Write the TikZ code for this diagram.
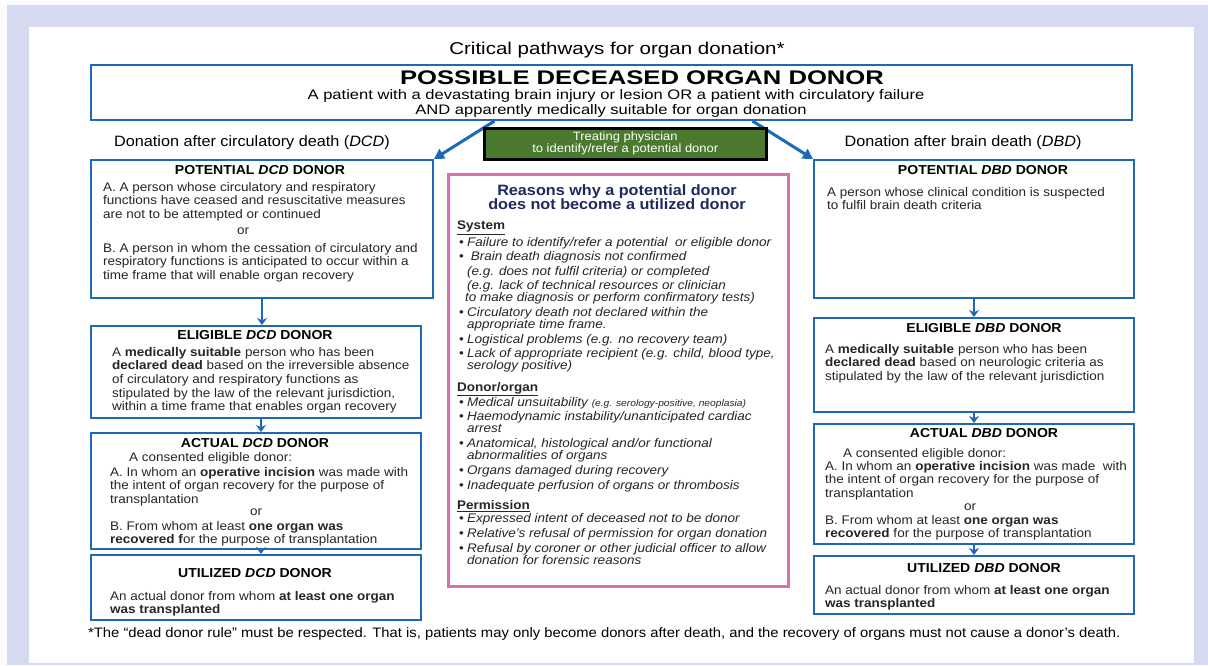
\documentclass[tikz,border=0pt]{standalone}
\usepackage{fontspec}
\setmainfont{Liberation Sans}[FakeStretch=1.08]
\newfontfamily\widesans[FakeStretch=1.2]{Liberation Sans}
\newfontfamily\widersans[FakeStretch=1.3]{Liberation Sans}
\usetikzlibrary{arrows.meta}

\definecolor{framelav}{HTML}{D5DAF0}
\definecolor{boxblue}{HTML}{1F68B5}
\definecolor{reasonpink}{HTML}{D870A9}
\definecolor{physgreen}{HTML}{4A7A2E}
\definecolor{headnavy}{HTML}{1E2A5E}
\definecolor{bodygray}{HTML}{262626}

\newcommand{\bdy}{\fontsize{12.5}{13.6}\selectfont}
\newcommand{\ttl}{\fontsize{13}{15}\selectfont\bfseries}
\newcommand{\bul}{\makebox[8pt][l]{\upshape\textbullet}}
\newcommand{\ind}{\hspace*{8pt}}

\begin{document}
\begin{tikzpicture}[x=1pt,y=-1pt,
  box/.style={draw=boxblue,line width=2pt,anchor=north west,inner sep=0pt},
  txt/.style={inner sep=0pt,anchor=north west,align=left,font=\bdy,text=bodygray},
  ttlnode/.style={inner sep=0pt,font=\ttl,text=black},
  ortxt/.style={inner sep=0pt,font=\bdy,text=bodygray},
  plist/.style={inner sep=0pt,anchor=north west,align=left,text=bodygray,
    font=\fontsize{12.5}{12}\selectfont\itshape},
  phead/.style={inner sep=0pt,anchor=north west,font=\fontsize{12.5}{14}\selectfont\bfseries,text=bodygray},
  varr/.style={draw=boxblue,line width=2pt,-{Stealth[length=7pt,width=10pt]}},
  darr/.style={draw=boxblue,line width=3pt,-{Triangle[length=10pt,width=11pt]}}]

% frame
\useasboundingbox (0,0) rectangle (1208,665);
\fill[white!95!framelav] (0,0) rectangle (1208,665);
\fill[framelav] (7,5) rectangle (1208,665);
\fill[white] (29,27) rectangle (1194,663);

% top
\node[font=\widesans\fontsize{17.1}{20}\selectfont,inner sep=0pt] (title) at (617,50) {Critical pathways for organ donation*};
\node[box,minimum width=1041pt,minimum height=55pt] (possible) at (90,64) {};
\node[font=\widersans\fontsize{19.7}{22}\selectfont\bfseries,inner sep=0pt] (possiblet) at (642,78) {POSSIBLE DECEASED ORGAN DONOR};
\node[font=\widesans\fontsize{13.8}{16}\selectfont,inner sep=0pt] (possiblea) at (616,96) {A patient with a devastating brain injury or lesion OR a patient with circulatory failure};
\node[font=\widesans\fontsize{13.8}{16}\selectfont,inner sep=0pt] (possibleb) at (611,111) {AND apparently medically suitable for organ donation};

\node[font=\fontsize{15}{17}\selectfont,inner sep=0pt] (dcdlab) at (252,143) {Donation after circulatory death (\textit{DCD})};
\node[font=\fontsize{15}{17}\selectfont,inner sep=0pt] (dbdlab) at (963,143) {Donation after brain death (\textit{DBD})};

% DCD column
\node[box,minimum width=342pt,minimum height=138pt] (pdcd) at (90,159) {};
\node[box,minimum width=330pt,minimum height=92pt] (edcd) at (90,325) {};
\node[box,minimum width=330pt,minimum height=116pt] (adcd) at (90,432) {};
\node[box,minimum width=330pt,minimum height=65pt] (udcd) at (90,554) {};

\node[ttlnode] (pdcdt) at (260,170) {POTENTIAL \textit{DCD} DONOR};
\node[txt] (pdcda) at (103,182) {A. A person whose circulatory and respiratory\\functions have ceased and resuscitative measures\\are not to be attempted or continued};
\node[ortxt] (pdcdor) at (243,231) {or};
\node[txt] (pdcdb) at (103,243) {B. A person in whom the cessation of circulatory and\\respiratory functions is anticipated to occur within a\\time frame that will enable organ recovery};

\node[ttlnode] (edcdt) at (255,335) {ELIGIBLE \textit{DCD} DONOR};
\node[txt] (edcdb) at (112,347) {A \textbf{medically suitable} person who has been\\\textbf{declared dead} based on the irreversible absence\\of circulatory and respiratory functions as\\stipulated by the law of the relevant jurisdiction,\\within a time frame that enables organ recovery};

\node[ttlnode] (adcdt) at (255,443) {ACTUAL \textit{DCD} DONOR};
\node[txt] (adcdc) at (129,452) {A consented eligible donor:};
\node[txt] (adcda) at (110,467) {A. In whom an \textbf{operative incision} was made with\\the intent of organ recovery for the purpose of\\transplantation};
\node[ortxt] (adcdor) at (256,512) {or};
\node[txt] (adcdb) at (110,521) {B. From whom at least \textbf{one organ was}\\\textbf{recovered f}or the purpose of transplantation};

\node[ttlnode] (udcdt) at (255,573) {UTILIZED \textit{DCD} DONOR};
\node[txt] (udcdb) at (110,591) {An actual donor from whom \textbf{at least one organ}\\\textbf{was transplanted}};

% DBD column
\node[box,minimum width=320pt,minimum height=138pt] (pdbd) at (813,159) {};
\node[box,minimum width=320pt,minimum height=94pt] (edbd) at (813,317) {};
\node[box,minimum width=320pt,minimum height=120pt] (adbd) at (813,423) {};
\node[box,minimum width=320pt,minimum height=58pt] (udbd) at (813,555) {};

\node[ttlnode] (pdbdt) at (983,170) {POTENTIAL \textit{DBD} DONOR};
\node[txt] (pdbdb) at (827,187) {A person whose clinical condition is suspected\\to fulfil brain death criteria};

\node[ttlnode] (edbdt) at (984,328) {ELIGIBLE \textit{DBD} DONOR};
\node[txt] (edbdb) at (825,344) {A \textbf{medically suitable} person who has been\\\textbf{declared dead} based on neurologic criteria as\\stipulated by the law of the relevant jurisdiction};

\node[ttlnode] (adbdt) at (984,433) {ACTUAL \textit{DBD} DONOR};
\node[txt] (adbdc) at (843,448) {A consented eligible donor:};
\node[txt] (adbda) at (825,461) {A. In whom an \textbf{operative incision} was made~ with\\the intent of organ recovery for the purpose of\\transplantation};
\node[ortxt] (adbdor) at (970,507) {or};
\node[txt] (adbdb) at (825,515) {B. From whom at least \textbf{one organ was}\\\textbf{recovered} for the purpose of transplantation};

\node[ttlnode] (udbdt) at (984,568) {UTILIZED \textit{DBD} DONOR};
\node[txt] (udbdb) at (825,585) {An actual donor from whom \textbf{at least one organ}\\\textbf{was transplanted}};

% arrows
\draw[darr] ([xshift=-117pt]possible.south) -- (pdcd.north east);
\draw[darr] ([xshift=141pt]possible.south) -- (pdbd.north west);
\draw[varr] (pdcd.south) -- (pdcd.south |- edcd.north);
\draw[varr] ([xshift=5pt]edcd.south) -- ([xshift=5pt]adcd.north);
\draw[varr] ([xshift=5pt]adcd.south) -- ([xshift=5pt]udcd.north);
\draw[varr] (pdbd.south) -- (edbd.north);
\draw[varr] (edbd.south) -- (adbd.north);
\draw[varr] (adbd.south) -- (udbd.north);

% treating physician
\node[draw=black,line width=2.5pt,fill=physgreen,anchor=north west,minimum width=282pt,minimum height=31pt,inner sep=0pt] (phys) at (483,127) {};
\node[text=white,font=\fontsize{12}{12}\selectfont,align=center,inner sep=0pt] (physt) at (phys.center) {Treating physician\\to identify/refer a potential donor};

% reasons
\node[draw=reasonpink,line width=3pt,anchor=north west,minimum width=340pt,minimum height=412pt,inner sep=0pt] (reasons) at (447,173) {};
\node[text=headnavy,font=\fontsize{15}{14.5}\selectfont\bfseries,align=center,inner sep=0pt] (reasonst) at (617,197) {Reasons why a potential donor\\does not become a utilized donor};

\node[phead] (sysh) at (457,221) {\underline{System}};
\node[plist] (sysl) at (459,237) {\bul Failure to identify/refer a potential~ or eligible donor\\[2.5pt]
\bul\ Brain death diagnosis not confirmed\\[2.5pt]
\ind (e.g. does not fulfil criteria) or completed\\[2.5pt]
\ind (e.g. lack of technical resources or clinician\\
\hspace*{6pt}to make diagnosis or perform confirmatory tests)\\[3pt]
\bul Circulatory death not declared within the\\
\ind appropriate time frame.\\[3pt]
\bul Logistical problems (e.g. no recovery team)\\[2pt]
\bul Lack of appropriate recipient (e.g. child, blood type,\\
\ind serology positive)};

\node[phead] (donh) at (457,382) {\underline{Donor/organ}};
\node[plist] (donl) at (459,397) {\bul Medical unsuitability {\fontsize{9.5}{12}\selectfont (e.g. serology-positive, neoplasia)}\\[2pt]
\bul Haemodynamic instability/unanticipated cardiac\\
\ind arrest\\[3pt]
\bul Anatomical, histological and/or functional\\
\ind abnormalities of organs\\[3pt]
\bul Organs damaged during recovery\\[3pt]
\bul Inadequate perfusion of organs or thrombosis};

\node[phead] (permh) at (457,500) {\underline{Permission}};
\node[plist] (perml) at (459,513) {\bul Expressed intent of deceased not to be donor\\[3pt]
\bul Relative’s refusal of permission for organ donation\\[3pt]
\bul Refusal by coroner or other judicial officer to allow\\
\ind donation for forensic reasons};

% footnote
\node[anchor=west,font=\fontsize{13.7}{16}\selectfont,inner sep=0pt] (foot) at (88,634) {*The “dead donor rule” must be respected. That is, patients may only become donors after death, and the recovery of organs must not cause a donor’s death.};

\end{tikzpicture}
\end{document}
